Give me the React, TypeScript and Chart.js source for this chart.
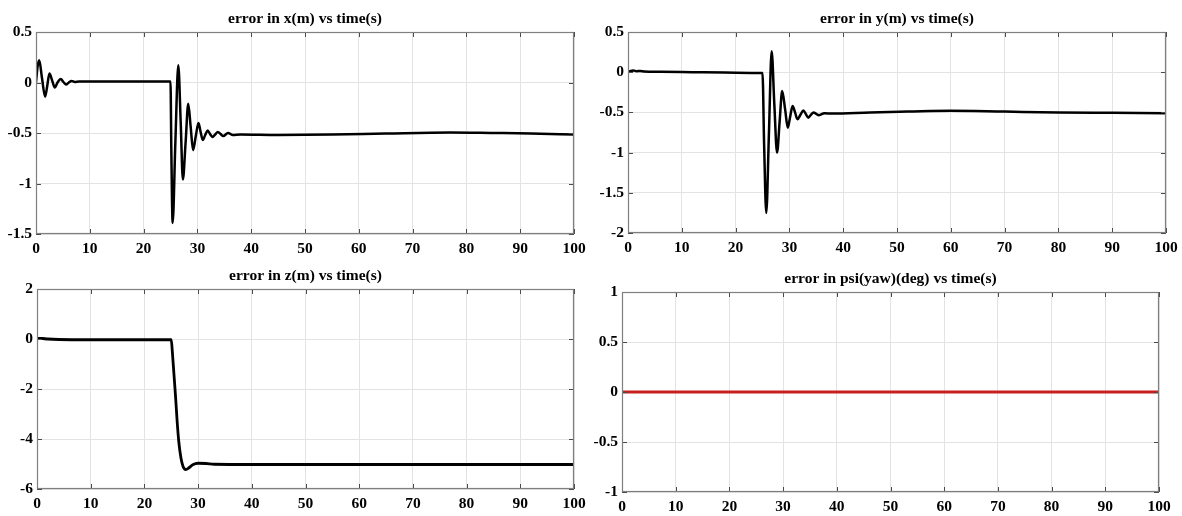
import React, { useEffect, useRef } from "react";
import { Chart, registerables } from "chart.js";

Chart.register(...registerables);

// ---------- tick labels ----------
const timeTicks = [0, 10, 20, 30, 40, 50, 60, 70, 80, 90, 100];
const xErrTicks = [0.5, 0, -0.5, -1, -1.5];
const yErrTicks = [0.5, 0, -0.5, -1, -1.5, -2];
const zErrTicks = [2, 0, -2, -4, -6];
const psiErrTicks = [1, 0.5, 0, -0.5, -1];

// ---------- titles ----------
const titles = [
  "error in x(m) vs time(s)",
  "error in y(m) vs time(s)",
  "error in z(m) vs time(s)",
  "error in psi(yaw)(deg) vs time(s)",
];

// ---------- series: error in x ----------
const xErrTime = [
  0, 0.3, 0.6, 1.1, 1.7, 2.1, 2.5, 3.0, 3.5, 4.0, 4.6, 5.1, 5.6, 6.1, 6.6, 7.2, 8, 12, 18, 24.9,
  25.0, 25.15, 25.4, 25.9, 26.45, 26.9, 27.3, 27.8, 28.3, 28.75, 29.2, 29.7, 30.2, 30.6, 31.0,
  31.45, 31.9, 32.35, 32.8, 33.3, 33.8, 34.3, 34.8, 35.7, 36.6, 38, 45, 55, 65, 77, 85, 92, 100,
];
const xErrVal = [
  0, 0.16, 0.22, 0.05, -0.14, -0.03, 0.09, 0.02, -0.05, 0.0, 0.035, 0.005, -0.02, 0.0, 0.015, 0.005, 0.01, 0.01, 0.01, 0.01,
  0.01, -0.65, -1.39, -0.6, 0.17, -0.4, -0.96, -0.6, -0.21, -0.44, -0.67, -0.53, -0.4, -0.49, -0.57,
  -0.52, -0.475, -0.51, -0.54, -0.515, -0.49, -0.51, -0.53, -0.5, -0.52, -0.515, -0.52, -0.515, -0.505, -0.495, -0.5, -0.505, -0.515,
];

// ---------- series: error in y ----------
const yErrTime = [
  0, 0.5, 1.0, 1.6, 2.3, 3, 6, 12, 18, 24.9,
  25.0, 25.3, 25.7, 26.2, 26.7, 27.2, 27.7, 28.2, 28.65, 29.2, 29.7, 30.15, 30.6, 31.05, 31.5,
  32.05, 32.6, 33.05, 33.5, 34.0, 34.5, 35.0, 35.5, 36.5, 38, 45, 52, 60, 70, 80, 90, 100,
];
const yErrVal = [
  0, 0.015, 0.02, 0.012, 0.015, 0.01, 0.005, 0, -0.005, -0.01,
  -0.01, -0.9, -1.75, -0.75, 0.26, -0.4, -1.0, -0.6, -0.235, -0.46, -0.69, -0.55, -0.42, -0.5, -0.585,
  -0.53, -0.475, -0.52, -0.565, -0.53, -0.5, -0.52, -0.535, -0.51, -0.515, -0.5, -0.49, -0.48, -0.49, -0.5, -0.505, -0.51,
];

// ---------- series: error in z ----------
const zErrTime = [
  0, 1, 2, 4, 10, 24.9, 25.0, 25.2, 25.5, 25.8, 26.1, 26.4, 26.8, 27.2, 27.7, 28.3, 29.0, 30.0,
  31.5, 33, 40, 100,
];
const zErrVal = [
  0.03, 0.02, 0.0, -0.02, -0.03, -0.03, -0.03, -0.5, -1.4, -2.3, -3.3, -4.1, -4.75, -5.1, -5.22,
  -5.15, -5.03, -4.97, -4.98, -5.01, -5.02, -5.02,
];

// ---------- series: error in psi ----------
const psiErrTime = [0, 100];
const psiErrVal = [0, 0];

const FONT = '"Liberation Serif", "Times New Roman", serif';

const framePlugin = {
  id: "frame",
  afterDraw(chart: any, _args: any, opts: any) {
    const { ctx, chartArea } = chart;
    const { left, top, right, bottom } = chartArea;
    const xs = chart.scales.x;
    const ys = chart.scales.y;
    ctx.save();
    // inward tick marks
    ctx.strokeStyle = "#4a4a4a";
    ctx.lineWidth = 1;
    ctx.beginPath();
    xs.ticks.forEach((t: any) => {
      const px = Math.round(xs.getPixelForValue(t.value)) + 0.5;
      ctx.moveTo(px, bottom);
      ctx.lineTo(px, bottom - 5);
      ctx.moveTo(px, top);
      ctx.lineTo(px, top + 5);
    });
    ys.ticks.forEach((t: any) => {
      const py = Math.round(ys.getPixelForValue(t.value)) + 0.5;
      ctx.moveTo(left, py);
      ctx.lineTo(left + 5, py);
      ctx.moveTo(right, py);
      ctx.lineTo(right - 5, py);
    });
    ctx.stroke();
    // axes box
    ctx.strokeStyle = "#7f7f7f";
    ctx.lineWidth = 1.2;
    ctx.strokeRect(left + 0.5, top + 0.5, right - left - 1, bottom - top - 1);
    // title
    ctx.fillStyle = "#000";
    ctx.font = `bold 15.5px ${FONT}`;
    ctx.textAlign = "center";
    ctx.textBaseline = "middle";
    ctx.fillText(opts.text, (left + right) / 2, top - 13);
    ctx.restore();
  },
};

type PanelProps = {
  cx: number;
  cy: number;
  cw: number;
  ch: number;
  L: number;
  T: number;
  R: number;
  B: number;
  times: number[];
  values: number[];
  yTicks: number[];
  title: string;
  color: string;
  width: number;
};

function Panel(p: PanelProps) {
  const ref = useRef<HTMLCanvasElement | null>(null);
  useEffect(() => {
    if (!ref.current) return;
    const yw = p.L - p.cx;
    const xh = p.cy + p.ch - p.B;
    const padTop = p.T - p.cy;
    const padRight = p.cx + p.cw - p.R;
    const yMin = Math.min(...p.yTicks);
    const yMax = Math.max(...p.yTicks);
    const tickFont = { family: FONT, size: 15.5, weight: "bold" as const };
    const chart = new Chart(ref.current, {
      type: "line",
      data: {
        datasets: [
          {
            data: p.times.map((t, i) => ({ x: t, y: p.values[i] })),
            borderColor: p.color,
            borderWidth: p.width,
            pointRadius: 0,
            cubicInterpolationMode: "monotone",
            fill: false,
          },
        ],
      },
      options: {
        animation: false,
        responsive: false,
        maintainAspectRatio: false,
        devicePixelRatio: 1,
        layout: { padding: { top: padTop, right: padRight, left: 0, bottom: 0 } },
        plugins: {
          legend: { display: false },
          tooltip: { enabled: false },
          title: { display: false },
          // @ts-ignore
          frame: { text: p.title },
        },
        scales: {
          x: {
            type: "linear",
            min: 0,
            max: 100,
            afterBuildTicks: (s: any) => {
              s.ticks = timeTicks.map((v) => ({ value: v }));
            },
            afterFit: (s: any) => {
              s.height = xh;
              s.paddingLeft = 0;
              s.paddingRight = 0;
            },
            grid: { color: "#e3e3e3", lineWidth: 1, drawTicks: false },
            border: { display: false },
            ticks: {
              color: "#000",
              font: tickFont,
              padding: 6,
              maxRotation: 0,
              autoSkip: false,
              callback: (v: any) => String(v),
            },
          },
          y: {
            type: "linear",
            min: yMin,
            max: yMax,
            afterBuildTicks: (s: any) => {
              s.ticks = p.yTicks.slice().sort((a, b) => a - b).map((v) => ({ value: v }));
            },
            afterFit: (s: any) => {
              s.width = yw;
              s.paddingTop = 0;
              s.paddingBottom = 0;
            },
            grid: { color: "#e3e3e3", lineWidth: 1, drawTicks: false },
            border: { display: false },
            ticks: {
              color: "#000",
              font: tickFont,
              padding: 4,
              autoSkip: false,
              callback: (v: any) => String(v),
            },
          },
        },
      },
      plugins: [framePlugin],
    });
    return () => chart.destroy();
  }, []);
  return (
    <canvas
      ref={ref}
      width={p.cw}
      height={p.ch}
      style={{ position: "absolute", left: p.cx, top: p.cy, width: p.cw, height: p.ch }}
    />
  );
}

export default function App() {
  return (
    <div
      style={{
        position: "absolute",
        left: 0,
        top: 0,
        width: 1182,
        height: 516,
        background: "#fff",
        overflow: "hidden",
      }}
    >
      <Panel cx={0} cy={0} cw={590} ch={260} L={36} T={32} R={574} B={234}
        times={xErrTime} values={xErrVal} yTicks={xErrTicks} title={titles[0]} color="#000" width={2.5} />
      <Panel cx={590} cy={0} cw={592} ch={260} L={628} T={32} R={1166} B={233}
        times={yErrTime} values={yErrVal} yTicks={yErrTicks} title={titles[1]} color="#000" width={2.5} />
      <Panel cx={0} cy={260} cw={590} ch={256} L={37} T={289} R={574} B={489}
        times={zErrTime} values={zErrVal} yTicks={zErrTicks} title={titles[2]} color="#000" width={2.8} />
      <Panel cx={590} cy={260} cw={592} ch={256} L={622} T={292} R={1159} B={492}
        times={psiErrTime} values={psiErrVal} yTicks={psiErrTicks} title={titles[3]} color="#c8201e" width={3} />
    </div>
  );
}
